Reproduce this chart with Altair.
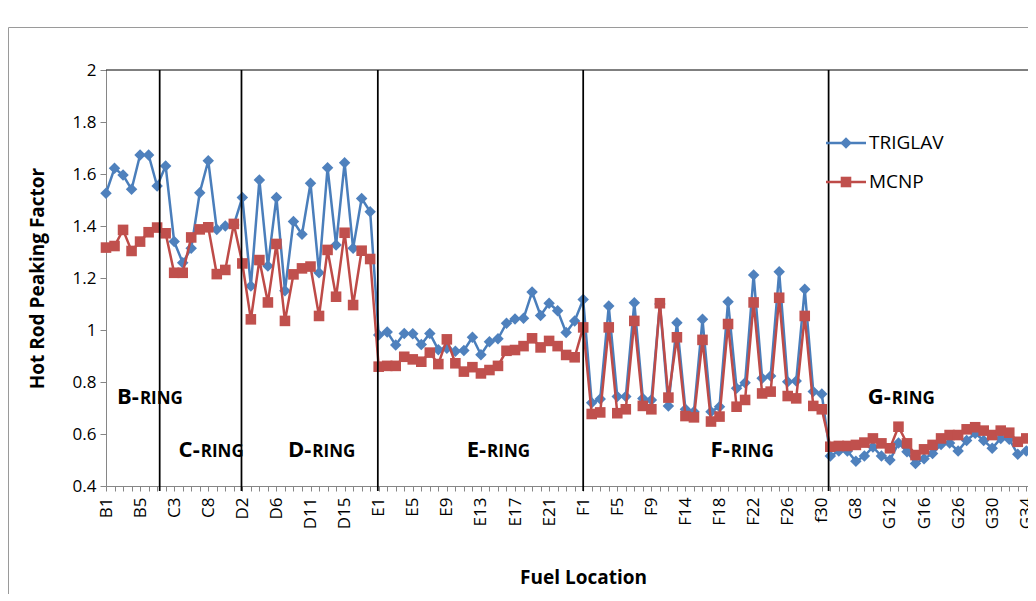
import json
import altair as alt
import pandas as pd

# ---------------- data ----------------
ring_b = ["B1", "B2", "B3", "B4", "B5", "B6"]
ring_c = ["C1", "C2", "C3", "C4", "C6", "C7", "C8", "C9", "C10", "C12"]
ring_d = ["D2", "D3", "D4", "D5", "D6", "D7", "D8", "D9", "D11", "D12", "D13", "D14",
          "D15", "D16", "D17", "D18"]
ring_e = ["E%d" % i for i in range(1, 25)]
ring_f = ["F1", "F2", "F3", "F4", "F5", "F6", "F7", "F8", "F9", "F10", "F11", "F12",
          "F14", "F15", "F16", "F17", "F18", "F19", "F20", "F21", "F22", "F23", "F24",
          "F25", "F26", "F27", "F28", "F29", "f30"]
ring_g = ["G2", "G4", "G6", "G8", "G9", "G10", "G11", "G12", "G13", "G14", "G15", "G16",
          "G18", "G20", "G24", "G26", "G27", "G28", "G29", "G30", "G31", "G32", "G33", "G34"]
names = ring_b + ring_c + ring_d + ring_e + ring_f + ring_g

triglav = [1.526, 1.622, 1.596, 1.541, 1.673, 1.673, 1.554, 1.631, 1.340, 1.259,
           1.314, 1.528, 1.651, 1.387, 1.400, 1.404, 1.510, 1.169, 1.577, 1.246,
           1.510, 1.151, 1.417, 1.368, 1.564, 1.220, 1.624, 1.327, 1.643, 1.314,
           1.506, 1.455, 0.981, 0.992, 0.942, 0.987, 0.986, 0.944, 0.987, 0.924,
           0.930, 0.918, 0.921, 0.972, 0.905, 0.955, 0.966, 1.026, 1.042, 1.045,
           1.146, 1.056, 1.103, 1.074, 0.990, 1.035, 1.117, 0.720, 0.735, 1.092,
           0.744, 0.744, 1.105, 0.737, 0.731, 1.100, 0.708, 1.028, 0.695, 0.686,
           1.041, 0.686, 0.705, 1.109, 0.776, 0.797, 1.212, 0.814, 0.823, 1.224,
           0.801, 0.804, 1.157, 0.763, 0.754, 0.515, 0.535, 0.535, 0.495, 0.515,
           0.550, 0.515, 0.500, 0.565, 0.532, 0.487, 0.505, 0.525, 0.560, 0.565,
           0.535, 0.575, 0.603, 0.575, 0.545, 0.583, 0.580, 0.522, 0.535]
mcnp = [1.317, 1.323, 1.385, 1.304, 1.340, 1.376, 1.394, 1.372, 1.220, 1.220,
        1.356, 1.387, 1.395, 1.215, 1.231, 1.408, 1.256, 1.041, 1.269, 1.106,
        1.331, 1.035, 1.214, 1.237, 1.244, 1.054, 1.308, 1.128, 1.374, 1.096,
        1.305, 1.273, 0.859, 0.862, 0.862, 0.897, 0.887, 0.878, 0.913, 0.869,
        0.964, 0.872, 0.840, 0.857, 0.833, 0.846, 0.862, 0.920, 0.923, 0.938,
        0.968, 0.933, 0.958, 0.938, 0.904, 0.895, 1.010, 0.677, 0.683, 1.010,
        0.680, 0.695, 1.035, 0.708, 0.695, 1.103, 0.740, 0.972, 0.669, 0.664,
        0.962, 0.648, 0.667, 1.023, 0.705, 0.731, 1.106, 0.756, 0.763, 1.124,
        0.746, 0.737, 1.054, 0.708, 0.695, 0.551, 0.554, 0.554, 0.558, 0.567,
        0.583, 0.564, 0.545, 0.628, 0.564, 0.519, 0.541, 0.558, 0.583, 0.596,
        0.596, 0.618, 0.626, 0.613, 0.596, 0.613, 0.605, 0.570, 0.583]

# ring separators (category index where each ring begins)
ring_starts = [6.3, 15.9, 31.9, 56.0, 84.8]
# ring labels: prefix / suffix and anchor (category index, factor value)
ring_prefix = ["B-", "C-", "D-", "E-", "F-", "G-"]
ring_suffix = ["RING"] * 6
ring_lab_x = [3.86, 11.0, 24.1, 44.6, 73.2, 92.1]
ring_lab_y = [0.715, 0.512, 0.512, 0.512, 0.512, 0.715]

series_names = ["TRIGLAV", "MCNP"]
y_ticks = [0.4, 0.6, 0.8, 1.0, 1.2, 1.4, 1.6, 1.8, 2.0]

# ---------------- style ----------------
BLUE_L, BLUE_M = "#4A7EBB", "#4F81BD"
RED_L, RED_M = "#BE4B48", "#C0504D"
FONT = "Open Sans"
W, H = 922, 416

n = len(names)
df_t = pd.DataFrame({"idx": list(range(n)), "name": names, "value": triglav})
df_m = pd.DataFrame({"idx": list(range(n)), "name": names, "value": mcnp})
df_rules = pd.DataFrame({"idx": ring_starts})
df_lab = pd.DataFrame({"idx": ring_lab_x, "value": ring_lab_y,
                       "prefix": ring_prefix, "suffix": ring_suffix})
one = pd.DataFrame({"a": [0]})

label_expr = ("datum.value % 4 == 0 ? " + json.dumps(names) +
              "[datum.value] : ''")

x_enc = alt.X(
    "idx:Q",
    scale=alt.Scale(domain=[0, 108.2], nice=False, zero=False),
    axis=alt.Axis(
        values=list(range(n)), labelExpr=label_expr, labelOverlap=False,
        labelAngle=270, labelAlign="right", labelBaseline="middle",
        labelFontSize=17, labelColor="black", labelPadding=6,
        tickSize=5, tickColor="#868686", domainColor="#868686",
        title="Fuel Location", titleFontSize=19, titleFontWeight="bold",
        titleColor="black", titleX=477, titleY=91, titleBaseline="middle",
        titleAlign="center"),
)
y_enc = alt.Y(
    "value:Q",
    scale=alt.Scale(domain=[0.4, 2.0], nice=False, zero=False),
    axis=alt.Axis(
        values=y_ticks, format="~g", labelFontSize=17, labelColor="black",
        labelPadding=4, tickSize=6, tickColor="#868686", domainColor="#868686",
        title="Hot Rod Peaking Factor", titleFontSize=19, titleFontWeight="bold",
        titleColor="black", titleAngle=270, titleX=-69, titleY=H / 2,
        titleAlign="center", titleBaseline="middle"),
)

line_t = alt.Chart(df_t).mark_line(color=BLUE_L, strokeWidth=2.5).encode(x=x_enc, y=y_enc)
pts_t = alt.Chart(df_t).mark_point(shape="diamond", filled=True, size=132,
                                   color=BLUE_M, opacity=1).encode(x=x_enc, y=y_enc)
line_m = alt.Chart(df_m).mark_line(color=RED_L, strokeWidth=2.5).encode(x=x_enc, y=y_enc)
pts_m = alt.Chart(df_m).mark_point(shape="square", filled=True, size=112,
                                   color=RED_M, opacity=1).encode(x=x_enc, y=y_enc)

rules = alt.Chart(df_rules).mark_rule(color="black", strokeWidth=1.75).encode(
    x=x_enc, y=alt.value(0), y2=alt.value(H + 5))

top_border = alt.Chart(one).mark_rule(color="black", strokeWidth=1).encode(
    x=alt.value(0), x2=alt.value(W), y=alt.value(0))

frame_top = alt.Chart(one).mark_rule(color="#9a9a9a", strokeWidth=1).encode(
    x=alt.value(-97.5), x2=alt.value(W), y=alt.value(-42.5))
frame_left = alt.Chart(one).mark_rule(color="#9a9a9a", strokeWidth=1).encode(
    x=alt.value(-97.5), y=alt.value(-42.5), y2=alt.value(H + 130))

lab_pre = alt.Chart(df_lab).mark_text(font=FONT, fontSize=22, fontWeight="bold",
                                      align="right", baseline="alphabetic",
                                      color="black").encode(x=x_enc, y=y_enc, text="prefix:N")
lab_suf = alt.Chart(df_lab).mark_text(font=FONT, fontSize=17, fontWeight="bold",
                                      align="left", baseline="alphabetic", dx=1,
                                      color="black").encode(x=x_enc, y=y_enc, text="suffix:N")

# legend (drawn inside the plot area, top right)
leg = []
for i, (nm, lc, mc, shp, sz) in enumerate([
        (series_names[0], BLUE_L, BLUE_M, "diamond", 132),
        (series_names[1], RED_L, RED_M, "square", 112)]):
    yy = 73 + 39 * i
    leg.append(alt.Chart(one).mark_rule(color=lc, strokeWidth=2.5).encode(
        x=alt.value(720), x2=alt.value(760), y=alt.value(yy)))
    leg.append(alt.Chart(one).mark_point(shape=shp, filled=True, size=sz, color=mc,
                                         opacity=1).encode(x=alt.value(740), y=alt.value(yy)))
    leg.append(alt.Chart(one).mark_text(text=nm, font=FONT, fontSize=19, align="left",
                                        baseline="middle", color="black").encode(
        x=alt.value(763), y=alt.value(yy)))

chart = alt.layer(
    frame_top, frame_left, top_border, line_t, pts_t, line_m, pts_m, rules,
    lab_pre, lab_suf, *leg
).properties(
    width=W, height=H,
    padding={"left": 98, "top": 62, "right": 0, "bottom": 108},
    autosize=alt.AutoSizeParams(type="none"),
    background="white",
).configure_view(stroke=None).configure_axis(
    grid=False, labelFont=FONT, titleFont=FONT
)

chart.save("out.html", embed_options={"renderer": "svg", "actions": False})
